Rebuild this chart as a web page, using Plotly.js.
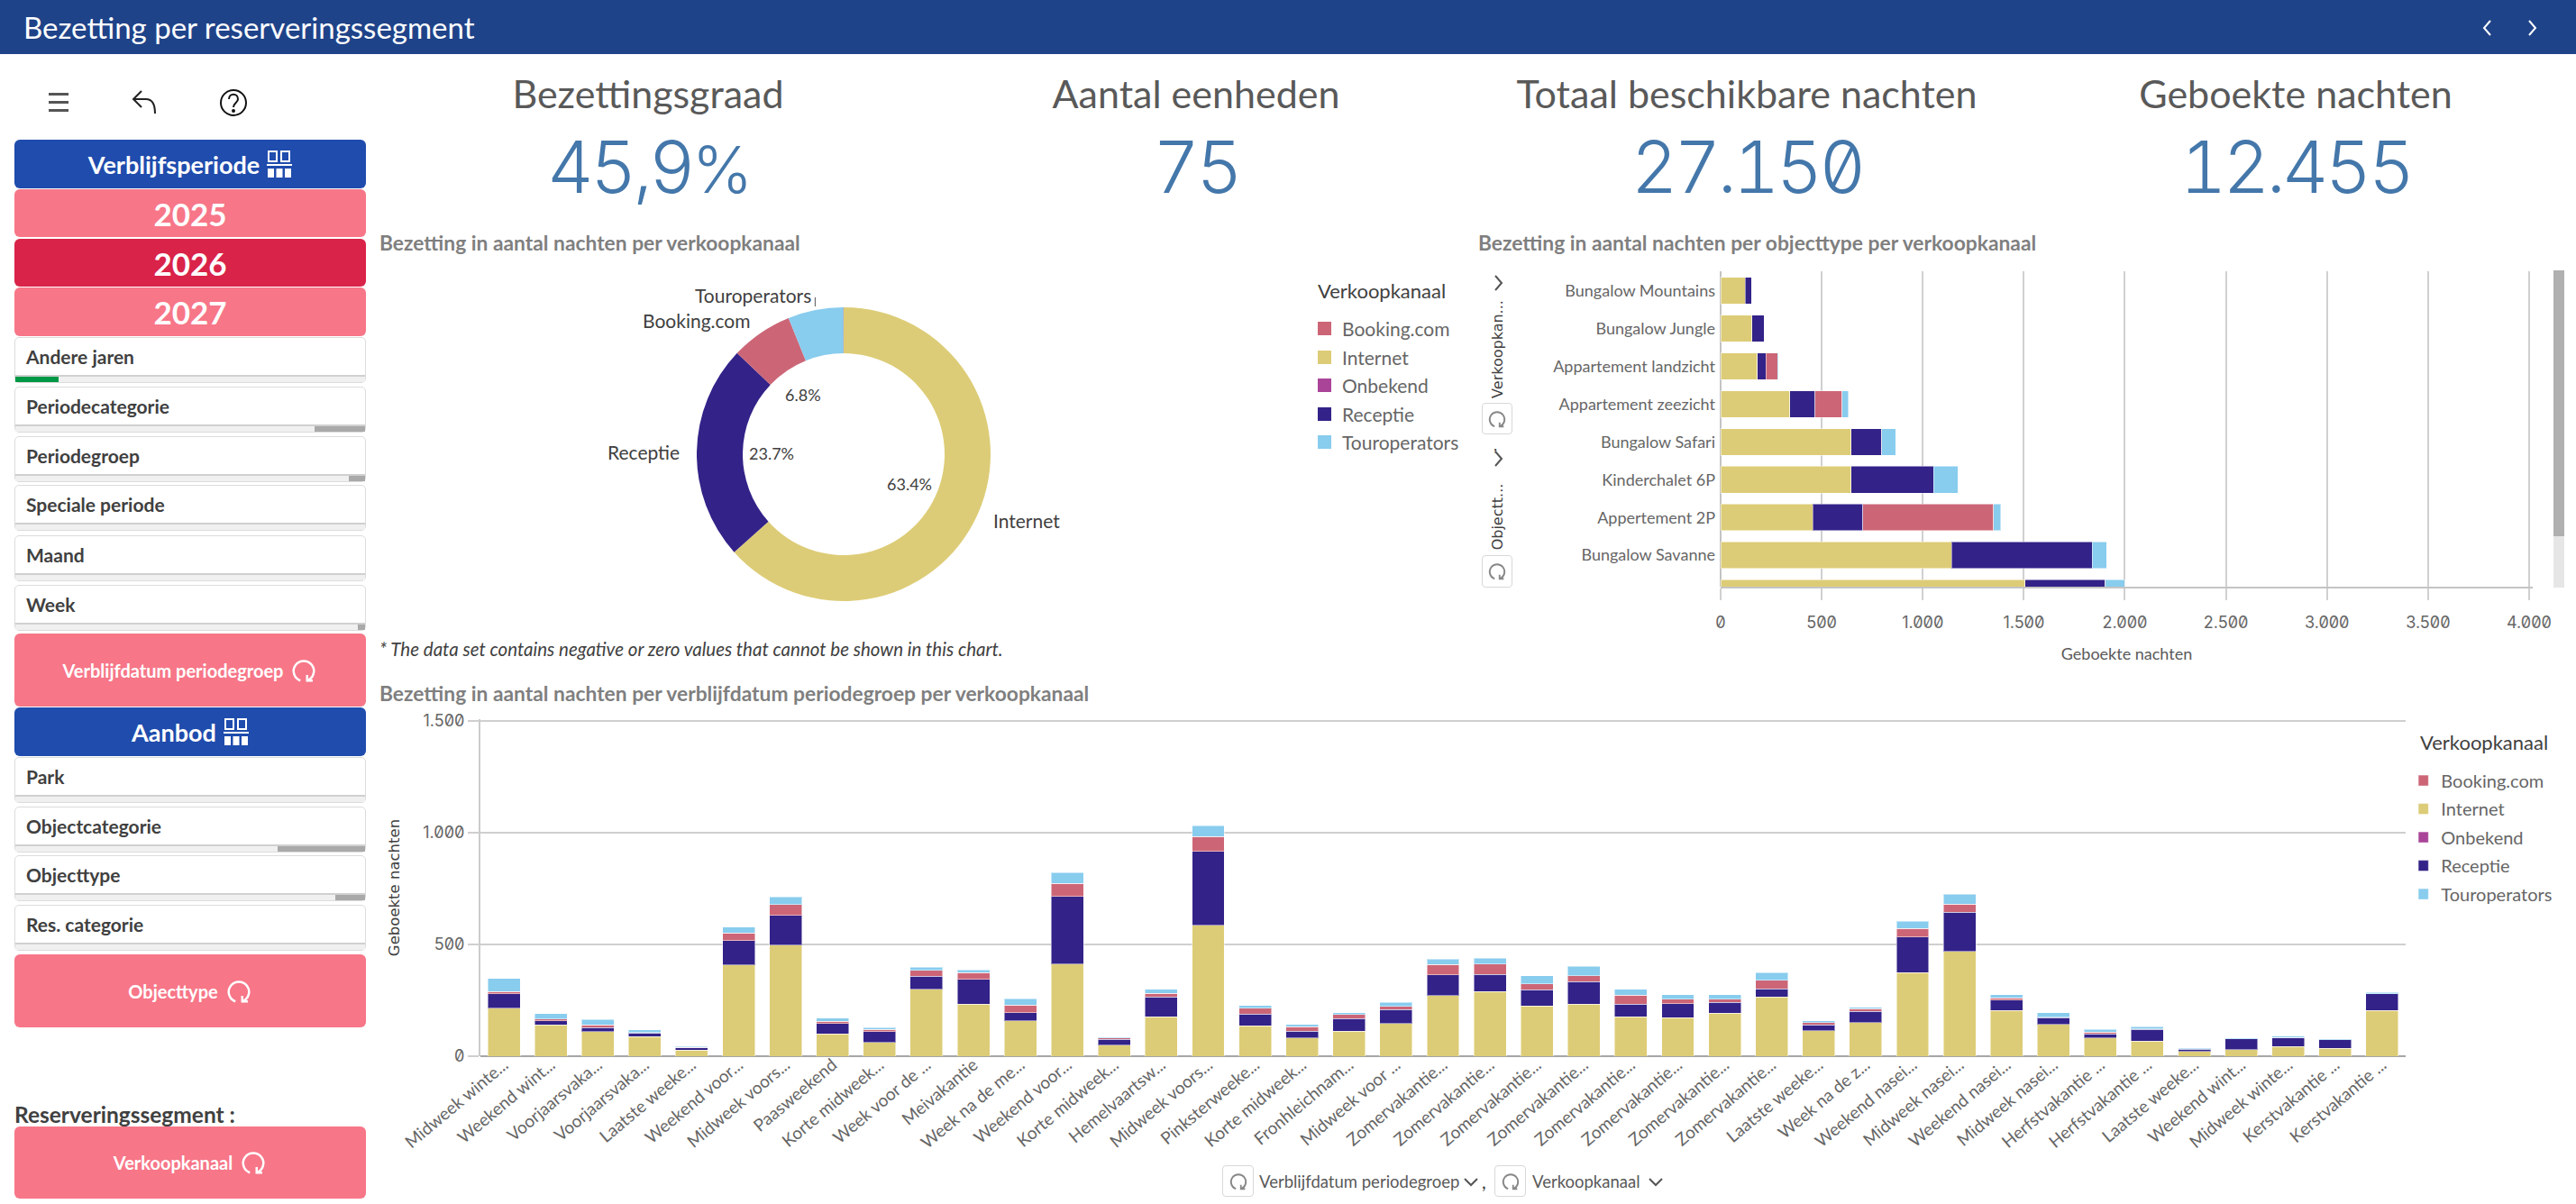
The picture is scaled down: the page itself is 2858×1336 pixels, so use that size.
<!DOCTYPE html>
<html>
<head>
<meta charset="utf-8">
<script src="https://cdn.plot.ly/plotly-3.0.1.min.js"></script>
<style>
body { margin: 0; background: #fff; font-family: Lato, sans-serif; overflow: hidden; }
#page { position: relative; width: 2858px; height: 1336px; overflow: hidden; }
#page > div, #page > svg { position: absolute; }
.chart { background: transparent; }
.header { left: 0; top: 0; width: 2858px; height: 60px; background: #1f4389; color: #fff; font-size: 33px; line-height: 60px; text-indent: 26px; }
.btn { left: 16px; width: 390px; border-radius: 6px; color: #fff; font-weight: 700; display: flex; align-items: center; justify-content: center; gap: 8px; }
.blue { background: #1f4cad; font-size: 27px; }
.year { background: #f77688; font-size: 35px; }
.year.on { background: #d92349; }
.action { background: #f77688; font-size: 20px; }
.filter { left: 16px; width: 388px; border: 1px solid #dcdcdc; border-radius: 5px; font-weight: 700; font-size: 21px; color: #404040; text-indent: 12px; background: #fff; box-sizing: content-box; }
.filter .track { position: absolute; left: 0; right: 0; bottom: 0; height: 6px; background: #f0f0f0; border-top: 2px solid #d0d0d0; }
.filter .fill { position: absolute; top: 0; bottom: 0; }
.kpi-title { width: 700px; text-align: center; font-size: 43px; color: #595959; font-weight: 400; line-height: 60px; }
.kpi-value { width: 700px; text-align: center; font-family: Inter, sans-serif; font-feature-settings: "zero", "tnum"; font-size: 80px; font-weight: 300; letter-spacing: -4px; color: #4477aa; line-height: 90px; }
.kpi-value small { font-size: 72px; }
.note { left: 421px; top: 708px; font-size: 20.500px; font-style: italic; color: #404040; }
.side-title { left: 16px; top: 1222px; font-size: 24.500px; font-weight: 700; color: #404040; }
.legend-title { font-size: 22px; color: #404040; }
.legend-item { font-size: 21px; color: #666; display: flex; align-items: center; gap: 12px; }
.legend-item i { display: inline-block; width: 15px; height: 15px; }
.cycle { border: 1px solid #d8d8d8; border-radius: 4px; background: #fff; box-sizing: border-box; display: flex; align-items: center; justify-content: center; }
.vtext { font-family: "DejaVu Sans", sans-serif; font-size: 16px; color: #404040; transform: rotate(-90deg); transform-origin: center; white-space: nowrap; }
.dim { font-size: 18.500px; color: #595959; white-space: nowrap; }
.xtick text, .ytick text { font-feature-settings: "zero"; }
</style>
</head>
<body>
<div id="page">
  <div id="plotChannel" class="chart" style="left:421px;top:250px;width:1200px;height:480px"></div>
  <div id="plotObject" class="chart" style="left:1640px;top:250px;width:1218px;height:496px"></div>
  <div id="plotPeriod" class="chart" style="left:421px;top:750px;width:2537px;height:586px"></div>
</div>
<script>
const channelNames = ["Booking.com", "Internet", "Onbekend", "Receptie", "Touroperators"];
const channelColors = ["#cc6677", "#ddcc77", "#aa4499", "#332288", "#88ccee"];

// donut, in drawing order (clockwise from the top)
const donutNames = ["Internet", "Receptie", "Booking.com", "Touroperators", "Onbekend"];
const donutShares = [63.4, 23.7, 6.8, 6.1, 0.02];
const donutColors = ["#ddcc77", "#332288", "#cc6677", "#88ccee", "#aa4499"];

const objectTypes = ["Bungalow Mountains", "Bungalow Jungle", "Appartement landzicht", "Appartement zeezicht",
                     "Bungalow Safari", "Kinderchalet 6P", "Appertement 2P", "Bungalow Savanne", "(onder de vouw)"];
const objectInternet = [121, 154, 182, 343, 646, 646, 457, 1143, 1507];
const objectReceptie = [32, 61, 43, 125, 150, 407, 246, 696, 396];
const objectBooking = [0, 0, 57, 132, 0, 0, 646, 0, 0];
const objectTour = [0, 0, 4, 32, 71, 121, 36, 71, 96];

const periodLabels = ["Midweek winte...", "Weekend wint...", "Voorjaarsvaka...", "Voorjaarsvaka...", "Laatste weeke...",
                      "Weekend voor...", "Midweek voors...", "Paasweekend", "Korte midweek...", "Week voor de ...",
                      "Meivakantie", "Week na de me...", "Weekend voor...", "Korte midweek...", "Hemelvaartsw...",
                      "Midweek voors...", "Pinksterweeke...", "Korte midweek...", "Fronhleichnam...", "Midweek voor ...",
                      "Zomervakantie...", "Zomervakantie...", "Zomervakantie...", "Zomervakantie...", "Zomervakantie...",
                      "Zomervakantie...", "Zomervakantie...", "Zomervakantie...", "Laatste weeke...", "Week na de z...",
                      "Weekend nasei...", "Midweek nasei...", "Weekend nasei...", "Midweek nasei...", "Herfstvakantie ...",
                      "Herfstvakantie ...", "Laatste weeke...", "Weekend wint...", "Midweek winte...", "Kerstvakantie ...",
                      "Kerstvakantie ..."];
const periodInternet = [214, 140, 109, 88, 27, 408, 497, 100, 62, 300, 233, 159, 412, 50, 177, 586, 137, 82, 112, 146,
                        272, 290, 225, 233, 177, 172, 193, 266, 113, 151, 373, 468, 204, 142, 82, 68, 21, 30, 44, 36, 204];
const periodReceptie = [66, 18, 20, 15, 11, 110, 133, 47, 47, 57, 110, 36, 302, 26, 88, 331, 51, 30, 57, 62,
                        92, 75, 72, 101, 56, 62, 47, 36, 27, 50, 160, 177, 48, 30, 18, 51, 11, 48, 39, 38, 75];
const periodBooking = [9, 9, 11, 3, 2, 33, 48, 9, 11, 27, 30, 33, 60, 5, 17, 66, 27, 20, 18, 14,
                       47, 48, 27, 26, 41, 21, 15, 38, 11, 12, 38, 36, 9, 2, 8, 3, 1, 0, 1, 0, 1];
const periodOnbekend = [0, 0, 0, 0, 0, 0, 0, 0, 0, 0, 0, 0, 0, 0, 0, 0, 0, 0, 0, 0,
                        0, 0, 0, 0, 0, 0, 0, 0, 0, 0, 0, 0, 0, 0, 0, 0, 0, 0, 0, 0, 0];
const periodTour = [59, 24, 24, 12, 3, 27, 35, 14, 8, 14, 14, 30, 47, 5, 17, 48, 11, 11, 8, 18,
                    23, 26, 36, 42, 26, 20, 20, 33, 8, 5, 32, 44, 15, 20, 11, 11, 3, 2, 5, 1, 5];

const kpis = [
    {title: "Bezettingsgraad", value: "45,9<small>%</small>", center: 719},
    {title: "Aantal eenheden", value: "75", center: 1327},
    {title: "Totaal beschikbare nachten", value: "27.150", center: 1938},
    {title: "Geboekte nachten", value: "12.455", center: 2547}
];

const LABEL_FONT = "Lato, sans-serif";
const TICK_FONT = "Inter, sans-serif";
const AXIS_TITLE_FONT = "'DejaVu Sans', sans-serif";
const GREY = "#666666";
const TITLE_FONT = {family: LABEL_FONT, size: 22.8, color: "#7f7f7f", weight: 700};

const page = document.getElementById("page");

function add(className, style, html) {
    const el = document.createElement("div");
    el.className = className;
    el.style.cssText = style;
    el.innerHTML = html || "";
    page.appendChild(el);
    return el;
}

const cycleIcon = (size, color) => `<svg width="${size}" height="${size}" viewBox="0 0 24 24" fill="none" stroke="${color}" stroke-width="2"><path d="M15 21a9 9 0 1 0-6 0"/><path d="M15 16v5h5"/></svg>`;
const gridIcon = `<svg width="28" height="30" viewBox="0 0 28 30" fill="#fff"><rect x="2" y="1" width="9" height="11" fill="none" stroke="#fff" stroke-width="2"/><rect x="16" y="1" width="9" height="11" fill="none" stroke="#fff" stroke-width="2"/><rect x="0" y="15" width="28" height="2"/><rect x="1" y="20" width="7" height="10"/><rect x="10.500" y="20" width="7" height="10"/><rect x="20" y="20" width="7" height="10"/></svg>`;
const chevron = (dir, color, size) => {
    const paths = {left: "M15 4 8 12l7 8", right: "M9 4l7 8-7 8", down: "M5 9l7 7 7-7"};
    return `<svg width="${size}" height="${size}" viewBox="0 0 24 24" fill="none" stroke="${color}" stroke-width="2"><path d="${paths[dir]}"/></svg>`;
};

// header and toolbar
add("header", "", "Bezetting per reserveringssegment");
add("", "left:2748px;top:19px", chevron("left", "#fff", 24));
add("", "left:2797px;top:19px", chevron("right", "#fff", 24));
add("", "left:50px;top:98px", `<svg width="30" height="32" viewBox="0 0 30 32" fill="#555"><rect x="4" y="5" width="22" height="3"/><rect x="4" y="14" width="22" height="3"/><rect x="4" y="23" width="22" height="3"/></svg>`);
add("", "left:144px;top:96px", `<svg width="34" height="36" viewBox="0 0 34 36" fill="none" stroke="#222" stroke-width="2"><path d="M13 5 4 14l9 9"/><path d="M4 14h14c7 0 10 5 10 16"/></svg>`);
add("", "left:243px;top:97px", `<svg width="32" height="34" viewBox="0 0 32 34" fill="none" stroke="#111" stroke-width="2"><circle cx="16" cy="17" r="14"/><path d="M11 13c0-7 10-7 10 0 0 4-5 4-5 9"/><circle cx="16" cy="26" r="1" fill="#111"/></svg>`);

// side panel
add("btn blue", "top:155px;height:54px", "Verblijfsperiode " + gridIcon);
add("btn year", "top:210px;height:53px", "2025");
add("btn year on", "top:265px;height:53px", "2026");
add("btn year", "top:319px;height:54px", "2027");
add("btn action", "top:703px;height:81px", "Verblijfdatum periodegroep " + cycleIcon(30, "#fff"));
add("btn blue", "top:785px;height:54px", "Aanbod " + gridIcon);
add("btn action", "top:1059px;height:81px", "Objecttype " + cycleIcon(30, "#fff"));
add("btn action", "top:1250px;height:80px", "Verkoopkanaal " + cycleIcon(30, "#fff"));
add("side-title", "", "Reserveringssegment :");

const filters = [
    {name: "Andere jaren", top: 374, from: 0, to: 48, color: "#009845"},
    {name: "Periodecategorie", top: 429, from: 332, to: 388, color: "#a9a9a9"},
    {name: "Periodegroep", top: 484, from: 370, to: 388, color: "#a9a9a9"},
    {name: "Speciale periode", top: 538},
    {name: "Maand", top: 594},
    {name: "Week", top: 649, from: 380, to: 388, color: "#a9a9a9"},
    {name: "Park", top: 840},
    {name: "Objectcategorie", top: 895, from: 291, to: 388, color: "#a9a9a9"},
    {name: "Objecttype", top: 949, from: 355, to: 388, color: "#a9a9a9"},
    {name: "Res. categorie", top: 1004}
];
filters.forEach(f => {
    const fill = f.color ? `<div class="fill" style="left:${f.from}px;width:${f.to - f.from}px;background:${f.color}"></div>` : "";
    add("filter", `top:${f.top}px;height:49px;line-height:42px`, `${f.name}<div class="track">${fill}</div>`);
});

// KPI row
kpis.forEach(k => {
    add("kpi-title", `left:${k.center - 350}px;top:74px`, k.title);
    add("kpi-value", `left:${k.center - 350}px;top:140px`, k.value);
});

add("note", "", "* The data set contains negative or zero values that cannot be shown in this chart.");

// legend next to the donut: the pie legend cannot be sorted apart from the slices
add("legend-title", "left:1462px;top:309px", "Verkoopkanaal");
channelNames.forEach((name, i) => {
    add("legend-item", `left:1462px;top:${352 + i * 31.5}px`, `<i style="background:${channelColors[i]}"></i>${name}`);
});

// object chart: dimension picker and scrollbar
add("", "left:1650px;top:302px", chevron("right", "#555", 24));
add("vtext", "left:1606px;top:378px;width:110px;text-align:center", "Verkoopkan...");
add("cycle", "left:1644px;top:447px;width:34px;height:35px", cycleIcon(22, "#888"));
add("", "left:1657px;top:482px;font-size:18px;color:#404040", ",");
add("", "left:1650px;top:497px", chevron("right", "#555", 24));
add("vtext", "left:1606px;top:564px;width:110px;text-align:center", "Objectt...");
add("cycle", "left:1644px;top:616px;width:34px;height:36px", cycleIcon(22, "#888"));
add("", "left:2833px;top:300px;width:12px;height:352px;background:#e6e6e6", "");
add("", "left:2833px;top:300px;width:12px;height:295px;background:#b0b0b0", "");

// period chart: dimension picker
add("cycle", "left:1356px;top:1293px;width:35px;height:35px", cycleIcon(22, "#888"));
add("dim", "left:1397px;top:1300px", "Verblijfdatum periodegroep");
add("", "left:1620px;top:1299px", chevron("down", "#555", 24));
add("", "left:1644px;top:1298px;font-size:21px;color:#404040", ",");
add("cycle", "left:1658px;top:1293px;width:35px;height:35px", cycleIcon(22, "#888"));
add("dim", "left:1700px;top:1300px", "Verkoopkanaal");
add("", "left:1825px;top:1299px", chevron("down", "#555", 24));

// the donut: percent labels and names are placed around the ring from the slice angles
const donutDiameter = 326;
const donutTotal = donutShares.reduce((a, b) => a + b, 0);
const donutAnnotations = [];
let shareSoFar = 0;
donutShares.forEach((share, i) => {
    const angle = (shareSoFar + share / 2) / donutTotal * 2 * Math.PI;
    shareSoFar += share;
    if (share < 1) return;
    const dx = Math.sin(angle), dy = Math.cos(angle);
    // the narrowest slice has no room for its percentage in the reference
    if (donutNames[i] !== "Touroperators") {
        donutAnnotations.push({
            x: 0.5 + 80 * dx / donutDiameter, y: 0.5 + 80 * dy / donutDiameter,
            xref: "paper", yref: "paper", xanchor: "center", yanchor: "middle", showarrow: false,
            text: (share / donutTotal * 100).toFixed(1) + "%",
            font: {family: LABEL_FONT, size: 18, color: "#404040"}
        });
    }
    donutAnnotations.push({
        x: 0.5 + 180 * dx / donutDiameter, y: 0.5 + 180 * dy / donutDiameter,
        xref: "paper", yref: "paper", showarrow: false,
        xanchor: dx < 0 ? "right" : "left", yanchor: "middle",
        text: donutNames[i],
        font: {family: LABEL_FONT, size: 21, color: "#404040"}
    });
});

Plotly.newPlot("plotChannel", [{
    type: "pie",
    labels: donutNames,
    values: donutShares,
    hole: 0.687,
    sort: false,
    direction: "clockwise",
    rotation: 0,
    textinfo: "none",
    marker: {colors: donutColors, line: {width: 0}}
}], {
    title: {text: "Bezetting in aantal nachten per verkoopkanaal", font: TITLE_FONT, x: 0, xanchor: "left", xref: "container", y: 0.958, yanchor: "middle"},
    margin: {l: 351.6, r: 522.4, t: 91, b: 63},
    showlegend: false,
    paper_bgcolor: "rgba(0,0,0,0)",
    annotations: donutAnnotations,
    shapes: [{type: "line", xref: "paper", yref: "paper", x0: 0.403, x1: 0.403, y0: 1.003, y1: 1.034, line: {color: "#555", width: 1}}]
}, {displayModeBar: false});

function objectTrace(name, color, values) {
    return {type: "bar", orientation: "h", name: name, y: objectTypes, x: values,
            marker: {color: color, line: {color: "rgba(255,255,255,0.5)", width: 1}}};
}

Plotly.newPlot("plotObject", [
    objectTrace("Internet", "#ddcc77", objectInternet),
    objectTrace("Receptie", "#332288", objectReceptie),
    objectTrace("Booking.com", "#cc6677", objectBooking),
    objectTrace("Touroperators", "#88ccee", objectTour)
], {
    title: {text: "Bezetting in aantal nachten per objecttype per verkoopkanaal", font: TITLE_FONT, x: 0, xanchor: "left", xref: "container", y: 0.96, yanchor: "middle"},
    barmode: "stack",
    bargap: 0.296,
    showlegend: false,
    separators: ",.",
    margin: {l: 269, r: 48, t: 50.5, b: 94.5},
    paper_bgcolor: "rgba(0,0,0,0)",
    plot_bgcolor: "rgba(0,0,0,0)",
    xaxis: {
        // a little past 4.000 so that the last gridline is kept
        range: [0, 4018], tickvals: [0, 500, 1000, 1500, 2000, 2500, 3000, 3500, 4000], tickformat: ",d",
        gridcolor: "#d0d0d0", gridwidth: 1.5, zeroline: true, zerolinecolor: "#c4c4c4", zerolinewidth: 1.5,
        ticks: "outside", ticklen: 13, tickcolor: "#d0d0d0", tickwidth: 1.5, ticklabelstandoff: 10,
        showline: true, linecolor: "#c4c4c4", linewidth: 1.5,
        tickfont: {family: TICK_FONT, size: 18, color: GREY},
        title: {text: "Geboekte nachten", standoff: 19, font: {family: LABEL_FONT, size: 18, color: "#595959"}}
    },
    yaxis: {
        type: "category", range: [7.83, -0.51], showgrid: false, zeroline: false, ticks: "", ticklabelstandoff: 5,
        tickfont: {family: LABEL_FONT, size: 18, color: GREY}
    }
}, {displayModeBar: false});

const periodIndex = periodLabels.map((_, i) => i);

function periodTrace(name, color, values, rank) {
    return {type: "bar", name: name, x: periodIndex, y: values, legendrank: rank, legendgroup: name,
            marker: {color: color, line: {color: "rgba(255,255,255,0.5)", width: 1}}};
}

Plotly.newPlot("plotPeriod", [
    periodTrace("Internet", "#ddcc77", periodInternet, 2),
    periodTrace("Receptie", "#332288", periodReceptie, 4),
    periodTrace("Booking.com", "#cc6677", periodBooking, 1),
    periodTrace("Onbekend", "#aa4499", periodOnbekend, 3),
    periodTrace("Touroperators", "#88ccee", periodTour, 5)
], {
    title: {text: "Bezetting in aantal nachten per verblijfdatum periodegroep per verkoopkanaal", font: TITLE_FONT, x: 0, xanchor: "left", xref: "container", y: 0.966, yanchor: "middle"},
    barmode: "stack",
    bargap: 0.31,
    separators: ",.",
    // the div runs past the page edge so the legend is not pushed back inside
    margin: {l: 112, r: 289, t: 48.4, b: 163.5},
    paper_bgcolor: "rgba(0,0,0,0)",
    plot_bgcolor: "rgba(0,0,0,0)",
    showlegend: true,
    legend: {
        x: 1.0067, xanchor: "left", y: 0.87, yanchor: "top", tracegroupgap: 2.5, indentation: -15,
        font: {family: LABEL_FONT, size: 20, color: GREY}, itemclick: false, itemdoubleclick: false
    },
    annotations: [{
        text: "Verkoopkanaal", xref: "paper", yref: "paper", x: 1.00655, y: 0.9316,
        xanchor: "left", yanchor: "middle", showarrow: false,
        font: {family: LABEL_FONT, size: 22, color: "#404040"}
    }],
    xaxis: {
        range: [-0.5, 40.5], tickmode: "array", tickvals: periodIndex, ticktext: periodLabels,
        tickangle: -40, ticks: "", showgrid: false, zeroline: false, showline: false, ticklabelstandoff: -6,
        tickfont: {family: LABEL_FONT, size: 19, color: GREY}
    },
    yaxis: {
        // a little past 1.500 so that the top gridline is kept
        range: [0, 1508], tickvals: [0, 500, 1000, 1500], tickformat: ",d",
        gridcolor: "#cfcfcf", gridwidth: 2, zeroline: true, zerolinecolor: "#a6a6a6", zerolinewidth: 2,
        showline: true, linecolor: "#cccccc", linewidth: 2,
        ticks: "outside", ticklen: 12, tickcolor: "#cfcfcf", tickwidth: 2,
        tickfont: {family: TICK_FONT, size: 18, color: GREY},
        title: {text: "Geboekte nachten", standoff: 22, font: {family: AXIS_TITLE_FONT, size: 16.5, color: "#404040"}}
    }
}, {displayModeBar: false});
</script>
</body>
</html>
